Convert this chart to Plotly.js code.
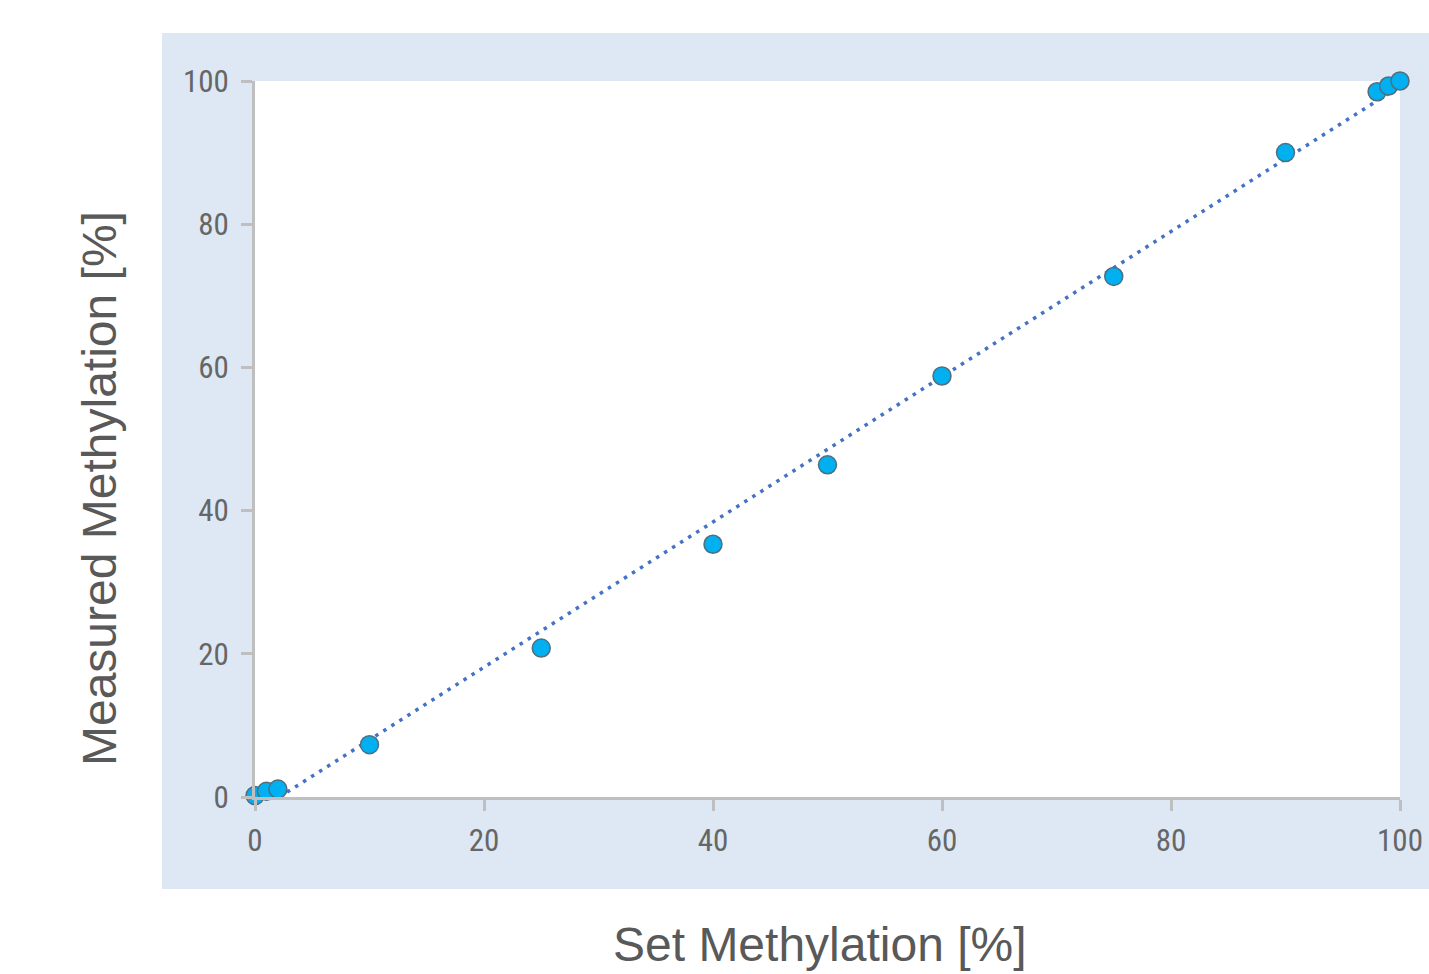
<!DOCTYPE html>
<html>
<head>
<meta charset="utf-8">
<script src="https://cdn.plot.ly/plotly-3.0.1.min.js"></script>
<style>html,body{margin:0;padding:0;background:#fff;}#chart{width:1429px;height:974px;}</style>
</head>
<body>
<div id="chart"></div>
<script>
// Data
const setMethylation = [0, 1, 2, 10, 25, 40, 50, 60, 75, 90, 98, 99, 100];
const measuredMethylation = [0.2, 0.8, 1.1, 7.3, 20.8, 35.3, 46.4, 58.8, 72.7, 90.0, 98.5, 99.3, 100.0];
const tickValues = [0, 20, 40, 60, 80, 100];
const xTitle = 'Set Methylation [%]';
const yTitle = 'Measured Methylation [%]';

// Linear least-squares trendline (as in the original spreadsheet chart)
const n = setMethylation.length;
const mx = setMethylation.reduce((a, b) => a + b, 0) / n;
const my = measuredMethylation.reduce((a, b) => a + b, 0) / n;
let sxy = 0, sxx = 0;
for (let i = 0; i < n; i++) {
  sxy += (setMethylation[i] - mx) * (measuredMethylation[i] - my);
  sxx += (setMethylation[i] - mx) ** 2;
}
const slope = sxy / sxx;
const intercept = my - slope * mx;
const trendX = [0, 100];
const trendY = trendX.map(x => intercept + slope * x);

const tickFont = {family: '"Liberation Sans Narrow", "Arial Narrow", "Roboto Condensed", sans-serif', size: 31, color: '#666666'};
const titleFont = {family: '"Liberation Sans", Arial, sans-serif', size: 48, color: '#595959'};

const traces = [
  {
    x: trendX, y: trendY, type: 'scatter', mode: 'lines',
    line: {color: '#4472c4', width: 3.5, dash: '3.5px,6px'},
    hoverinfo: 'skip', showlegend: false
  },
  {
    x: setMethylation, y: measuredMethylation, type: 'scatter', mode: 'markers',
    cliponaxis: false,
    marker: {size: 18, color: '#00b0f0', line: {color: '#4f6e80', width: 1.5}},
    showlegend: false
  }
];

const layout = {
  width: 1429, height: 974,
  margin: {l: 255, r: 29, t: 81, b: 177},
  paper_bgcolor: '#ffffff',
  plot_bgcolor: '#ffffff',
  showlegend: false,
  xaxis: {
    range: [0, 100], tickvals: tickValues, ticktext: tickValues.map(String),
    showgrid: false, zeroline: false, showline: true, linecolor: '#bfbfbf', linewidth: 3,
    ticks: 'outside', ticklen: 11, tickwidth: 3, tickcolor: '#bfbfbf',
    ticklabelstandoff: 3,
    tickfont: tickFont, fixedrange: true
  },
  yaxis: {
    range: [0, 100], tickvals: tickValues, ticktext: tickValues.map(String),
    showgrid: false, zeroline: false, showline: true, linecolor: '#bfbfbf', linewidth: 3,
    ticks: 'outside', ticklen: 11, tickwidth: 3, tickcolor: '#bfbfbf',
    ticklabelstandoff: 6,
    tickfont: tickFont, fixedrange: true
  },
  shapes: [
    {type: 'rect', xref: 'paper', yref: 'paper', x0: (162-255)/1145, x1: (1429-255)/1145 + 0.01,
     y0: (797-889)/716, y1: (797-33)/716, fillcolor: '#dde8f4', line: {width: 0}, layer: 'below'},
    {type: 'rect', xref: 'paper', yref: 'paper', x0: 0, x1: 1, y0: 0, y1: 1,
     fillcolor: '#ffffff', line: {width: 0}, layer: 'below'}
  ],
  annotations: [
    {text: xTitle, xref: 'paper', yref: 'paper', x: (820-255)/1145, y: (797-944)/716,
     xanchor: 'center', yanchor: 'middle', showarrow: false, font: titleFont},
    {text: yTitle, xref: 'paper', yref: 'paper', x: (100-255)/1145, y: (797-489)/716,
     xanchor: 'center', yanchor: 'middle', textangle: -90, showarrow: false, font: titleFont}
  ]
};

Plotly.newPlot('chart', traces, layout, {displayModeBar: false, staticPlot: true});
</script>
</body>
</html>
